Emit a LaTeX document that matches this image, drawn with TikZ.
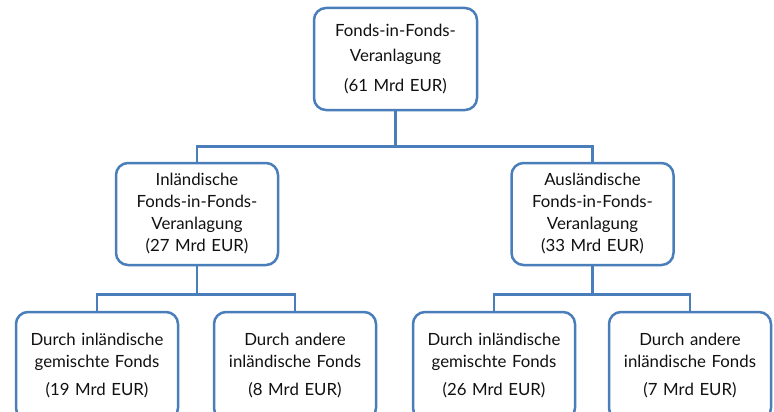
\documentclass[tikz,border=0pt]{standalone}
\usepackage{fontspec}
\setmainfont{Lato}
\usetikzlibrary{positioning}
\definecolor{boxblue}{HTML}{4A7EBB}
\definecolor{inktext}{HTML}{111111}

\begin{document}
\begin{tikzpicture}[
              x=1pt,
              y=1pt,
              font=\fontsize{16.8}{22}\selectfont,
              fund/.style={draw=boxblue, line width=2.5pt, fill=white, rounded corners=12pt, text=inktext, align=center, minimum height=102pt, inner sep=2pt},
              topbox/.style={fund, minimum width=163pt, text width=155pt},
              midbox/.style={fund, minimum width=162pt, text width=155pt},
              lowbox/.style={fund, minimum width=162pt, text width=158pt, minimum height=108pt},
              link/.style={draw=boxblue, line width=2.5pt}
            ]
            \useasboundingbox (0,0) rectangle (774,-412);
            \clip (0,0) rectangle (774,-412);

            \node[topbox] (total) at (395.5,-59) {
              Fonds-in-Fonds-\\[3pt]
              Veranlagung\\[8pt]
              (61 Mrd EUR)
            };

            \node[midbox] (inland) at (197,-214) {
              Inländische\\
              Fonds-in-Fonds-\\
              Veranlagung\\
              (27 Mrd EUR)
            };
            \node[midbox] (ausland) at (592.5,-214) {
              Ausländische\\
              Fonds-in-Fonds-\\
              Veranlagung\\
              (33 Mrd EUR)
            };

            % bottom row runs past the lower edge
            \node[lowbox] (inmixed) at (97,-366) {
              Durch inländische\\
              gemischte Fonds\\[6pt]
              (19 Mrd EUR)
            };
            \node[lowbox] (inother) at (295,-366) {
              Durch andere\\
              inländische Fonds\\[6pt]
              (8 Mrd EUR)
            };
            \node[lowbox] (ausmixed) at (494,-366) {
              Durch inländische\\
              gemischte Fonds\\[6pt]
              (26 Mrd EUR)
            };
            \node[lowbox] (ausother) at (690,-366) {
              Durch andere\\
              inländische Fonds\\[6pt]
              (7 Mrd EUR)
            };

            \draw[link] (total.south) -- ++(0,-35) -| (inland.north);
            \draw[link] (total.south) -- ++(0,-35) -| (ausland.north);

            \draw[link] (inland.south) -- ++(0,-28) -| (inmixed.north);
            \draw[link] (inland.south) -- ++(0,-28) -| (inother.north);
            \draw[link] (ausland.south) -- ++(0,-28) -| (ausmixed.north);
            \draw[link] (ausland.south) -- ++(0,-28) -| (ausother.north);
            \end{tikzpicture}
\end{document}
